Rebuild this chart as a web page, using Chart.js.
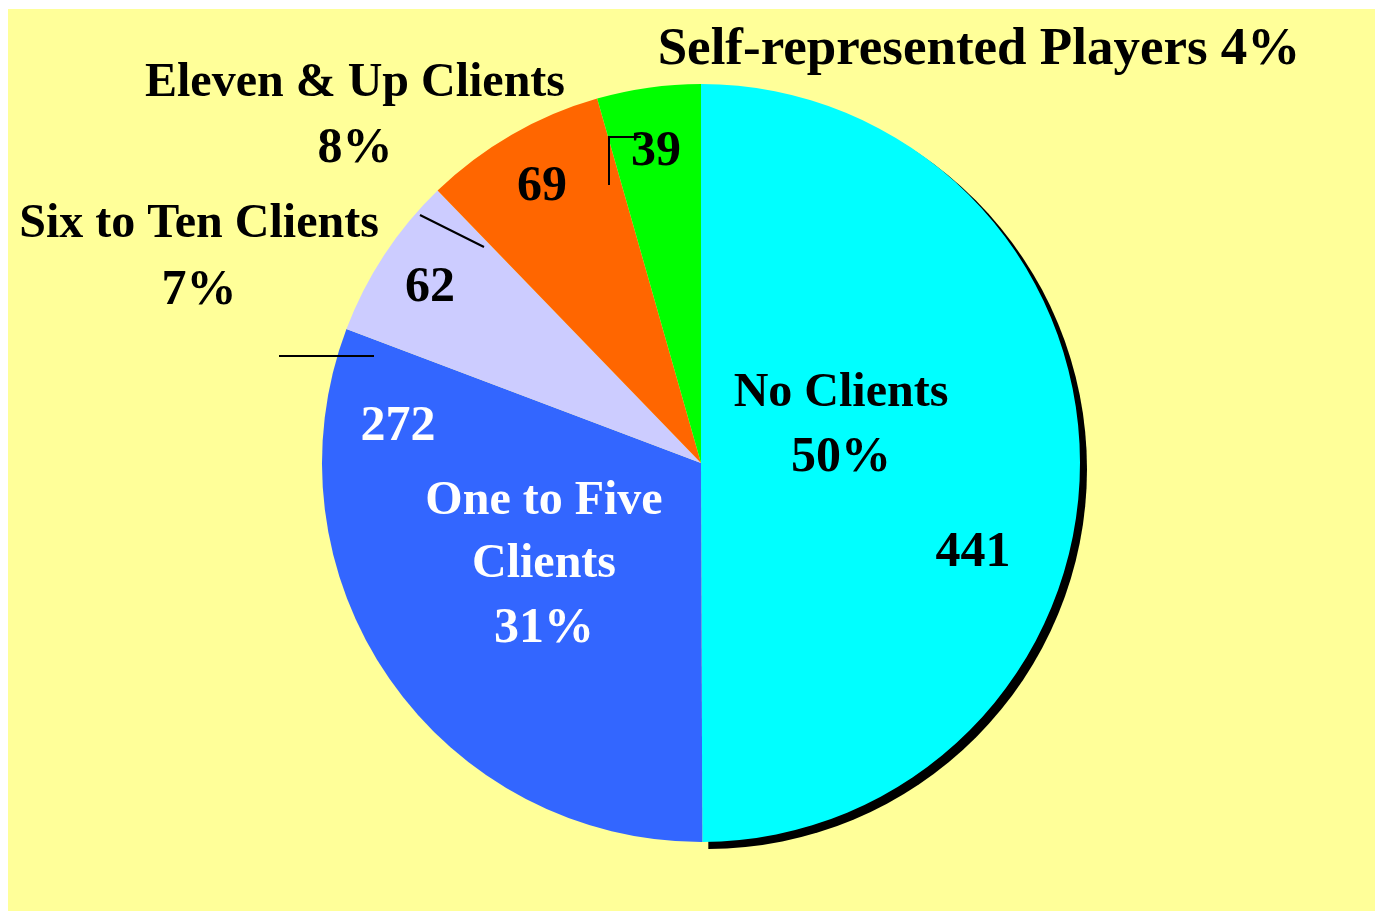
<!DOCTYPE html>
<html>
<head>
<meta charset="utf-8">
<script src="https://cdn.jsdelivr.net/npm/chart.js@4"></script>
<style>
    body { margin: 0; background: #ffffff; }
    #wrap { position: absolute; left: 8px; top: 9px; width: 1367px; height: 902px; background: #FFFF99; }
</style>
</head>
<body>
<div id="wrap"><canvas id="myChart" width="1367" height="902"></canvas></div>
<script>
// Chart data
const categories = ['No Clients', 'One to Five Clients', 'Six to Ten Clients', 'Eleven & Up Clients', 'Self-represented Players'];
const counts = [441, 272, 62, 69, 39];
const colors = ['#00FFFF', '#3366FF', '#CCCCFF', '#FF6600', '#00FF00'];

const total = counts.reduce((a, b) => a + b, 0);
const percents = counts.map(v => Math.round(v / total * 100) + '%');

// Drop shadow under the first slice
const shadowPlugin = {
    id: 'shadow',
    beforeDatasetsDraw(chart) {
        const arc = chart.getDatasetMeta(0).data[0];
        const ctx = chart.ctx;
        ctx.save();
        ctx.fillStyle = '#000000';
        ctx.beginPath();
        ctx.moveTo(arc.x + 6, arc.y + 6);
        ctx.arc(arc.x + 6, arc.y + 6, arc.outerRadius + 1, arc.startAngle, arc.endAngle);
        ctx.closePath();
        ctx.fill();
        ctx.restore();
    }
};

// Text labels and leader lines
const labelPlugin = {
    id: 'labels',
    afterDatasetsDraw(chart) {
        const ctx = chart.ctx;
        ctx.save();
        ctx.textAlign = 'center';
        ctx.textBaseline = 'middle';

        function txt(s, x, y, color, size) {
            ctx.font = 'bold ' + (size || 48) + 'px "Liberation Serif", "Times New Roman", serif';
            ctx.fillStyle = color || '#000000';
            ctx.fillText(s, x - 8, y - 6);
        }

        // values
        txt(String(counts[0]), 973, 550, null, 50);
        txt(String(counts[1]), 398, 424, '#ffffff', 50);
        txt(String(counts[2]), 430, 285, null, 50);
        txt(String(counts[3]), 542, 184, null, 50);
        txt(String(counts[4]), 656, 149, null, 50);

        // categories
        txt('No Clients', 841, 391);
        txt(percents[0], 841, 455, null, 50);
        txt('One to Five', 544, 499, '#ffffff');
        txt('Clients', 544, 562, '#ffffff');
        txt(percents[1], 544, 626, '#ffffff', 50);
        txt('Six to Ten Clients', 199, 222);
        txt(percents[2], 199, 288, null, 50);
        txt('Eleven & Up Clients', 355, 81);
        txt(percents[3], 355, 146, null, 50);
        txt(categories[4] + ' ' + percents[4], 979, 47, null, 53);

        // leader lines
        ctx.strokeStyle = '#000000';
        ctx.lineWidth = 2;
        ctx.beginPath();
        ctx.moveTo(609 - 8, 185 - 9);
        ctx.lineTo(609 - 8, 137 - 9);
        ctx.lineTo(641 - 8, 137 - 9);
        ctx.moveTo(420 - 8, 215 - 9);
        ctx.lineTo(484 - 8, 247 - 9);
        ctx.moveTo(279 - 8, 356 - 9);
        ctx.lineTo(374 - 8, 356 - 9);
        ctx.stroke();
        ctx.restore();
    }
};

const ctx = document.getElementById('myChart').getContext('2d');
const myChart = new Chart(ctx, {
    type: 'pie',
    data: {
        labels: categories,
        datasets: [{
            data: counts,
            backgroundColor: colors,
            borderWidth: 0,
            hoverOffset: 0
        }]
    },
    options: {
        responsive: false,
        animation: false,
        events: [],
        layout: {
            padding: { left: 314, right: 295, top: 75, bottom: 69 }
        },
        plugins: {
            legend: { display: false },
            tooltip: { enabled: false }
        }
    },
    plugins: [shadowPlugin, labelPlugin]
});
</script>
</body>
</html>
